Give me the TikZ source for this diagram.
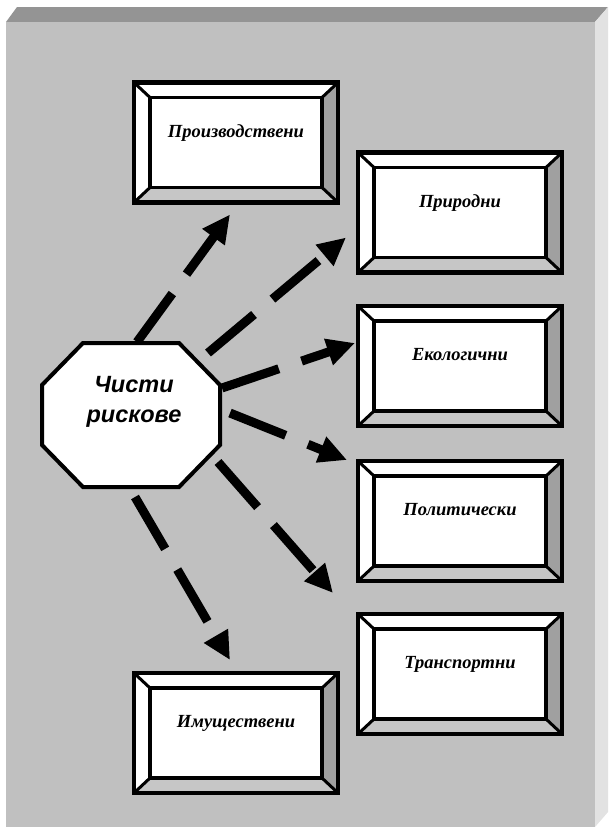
\documentclass[tikz,border=0pt]{standalone}
\usepackage{fontspec}
\setmainfont{Liberation Serif}
\newfontfamily\hubfont{Liberation Sans}
\usetikzlibrary{calc,arrows.meta}

\definecolor{slabfront}{HTML}{C0C0C0}
\definecolor{slabtop}{HTML}{949494}
\definecolor{slabside}{HTML}{E2E2E2}
\definecolor{bevelright}{HTML}{A0A0A0}
\definecolor{bevelbottom}{HTML}{C6C6C6}

\begin{document}
\begin{tikzpicture}[x=1pt,y=-1pt,
	riskbox/.style={fill=white, minimum width=204pt, minimum height=120pt, outer sep=0pt, inner sep=0pt,
		font=\bfseries\itshape\fontsize{18.5}{22}\selectfont, text height=12pt, text depth=23pt},
	hubframe/.style={minimum width=178pt, minimum height=144pt, inner sep=0pt, outer sep=0pt},
	hubtext/.style={align=center, inner sep=0pt, font=\hubfont\bfseries\itshape\fontsize{23.5}{30}\selectfont},
	flow/.style={line width=9pt, dash pattern=on 60pt off 24pt, -{Triangle[length=28pt,width=26pt]}}]
	%\draw[help lines] (0,0) grid[step=50] (608,827);
	\useasboundingbox (0,0) rectangle (608,827);

	% slab
	\fill[slabtop] (6,22) -- (17,7) -- (608,7) -- (595,22) -- cycle;
	\fill[slabside] (595,22) -- (608,7) -- (608,812) -- (595,827) -- cycle;
	\fill[slabfront] (6,22) rectangle (595,827);

	% boxes
	\node[riskbox] (prod) at (236,142.5) {Производствени};
	\node[riskbox] (prir) at (460,212.5) {Природни};
	\node[riskbox] (eko) at (460,366) {Екологични};
	\node[riskbox] (pol) at (460,521) {Политически};
	\node[riskbox] (tra) at (460,674) {Транспортни};
	\node[riskbox] (imu) at (236,733) {Имуществени};

	\foreach \b in {prod,prir,eko,pol,tra,imu} {
		\fill[bevelright] (\b.north east) -- ($(\b.north east)+(-16,15)$) -- ($(\b.south east)+(-16,-15)$) -- (\b.south east) -- cycle;
		\fill[bevelbottom] (\b.south west) -- ($(\b.south west)+(16,-15)$) -- ($(\b.south east)+(-16,-15)$) -- (\b.south east) -- cycle;
		\draw[line width=3pt] (\b.north west) -- ($(\b.north west)+(16,15)$);
		\draw[line width=3pt] (\b.north east) -- ($(\b.north east)+(-16,15)$);
		\draw[line width=3pt] (\b.south west) -- ($(\b.south west)+(16,-15)$);
		\draw[line width=3pt] (\b.south east) -- ($(\b.south east)+(-16,-15)$);
		\draw[line width=3.5pt] ($(\b.north west)+(16,15)$) rectangle ($(\b.south east)+(-16,-15)$);
		\draw[line width=4.5pt] (\b.north west) rectangle (\b.south east);
	}

	% arrows
	\coordinate (s1) at (137,342);
	\coordinate (s2) at (208,353);
	\coordinate (s3) at (222,388);
	\coordinate (s4) at (230,413);
	\coordinate (s5) at (218,462);
	\coordinate (s6) at (135,497);
	\coordinate (t1) at ($(prod.south)+(-6,12)$);
	\coordinate (t2) at ($(prir.west)+(-12,25)$);
	\coordinate (t3) at ($(eko.west)+(-3,-23)$);
	\coordinate (t4) at ($(pol.west)+(-11,-61)$);
	\coordinate (t5) at ($(tra.west)+(-25,-81)$);
	\coordinate (t6) at ($(imu.north)+(-6,-13)$);

	\foreach \i in {1,...,6}
		\draw[flow] (s\i) -- (t\i);

	% hub
	\node[hubframe] (hub) at (131,415) {};
	\filldraw[fill=white, line width=4pt, line join=miter]
		($(hub.north west)+(41,0)$) -- ($(hub.north east)+(-41,0)$) -- ($(hub.north east)+(0,42)$)
		-- ($(hub.south east)+(0,-42)$) -- ($(hub.south east)+(-41,0)$) -- ($(hub.south west)+(41,0)$)
		-- ($(hub.south west)+(0,-42)$) -- ($(hub.north west)+(0,42)$) -- cycle;
	\node[hubtext] (hubtxt) at ($(hub)+(3,-13)$) {Чисти\\рискове};

\end{tikzpicture}
\end{document}
